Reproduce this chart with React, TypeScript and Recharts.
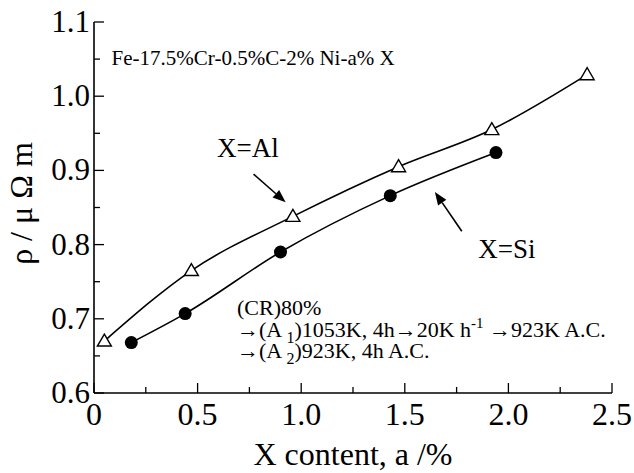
import { LineChart, Line, XAxis, YAxis, ReferenceDot, ReferenceLine } from "recharts";

const alContent = [0.05, 0.47, 0.96, 1.47, 1.92, 2.38];
const alRho = [0.67, 0.765, 0.838, 0.905, 0.955, 1.029];
const siContent = [0.18, 0.44, 0.9, 1.43, 1.94];
const siRho = [0.668, 0.707, 0.79, 0.866, 0.924];

const xTicks = [0, 0.25, 0.5, 0.75, 1.0, 1.25, 1.5, 1.75, 2.0, 2.25, 2.5];
const yTicks = [0.6, 0.65, 0.7, 0.75, 0.8, 0.85, 0.9, 0.95, 1.0, 1.05, 1.1];

const alData = alContent.map((x, i) => ({ x, y: alRho[i] }));
const siData = siContent.map((x, i) => ({ x, y: siRho[i] }));

const FONT = "Liberation Serif, Times New Roman, serif";

const isMajorX = (v: number) => Math.abs(v * 2 - Math.round(v * 2)) < 1e-6;
const isMajorY = (v: number) => Math.abs(v * 10 - Math.round(v * 10)) < 1e-6;

// eslint-disable-next-line @typescript-eslint/no-explicit-any
function BottomTick({ x, y, payload }: any) {
  const v = payload.value;
  const major = isMajorX(v);
  return (
    <g>
      <line x1={x} y1={y} x2={x} y2={y - (major ? 10 : 6)} stroke="#000" strokeWidth={1.3} />
      {major && (
        <text x={x} y={y + 32} textAnchor="middle" fontSize={32} fontFamily={FONT} fill="#000">
          {v === 0 ? "0" : v.toFixed(1)}
        </text>
      )}
    </g>
  );
}

// eslint-disable-next-line @typescript-eslint/no-explicit-any
function TopTick({ x, y, payload }: any) {
  const major = isMajorX(payload.value);
  return <line x1={x} y1={y} x2={x} y2={y + (major ? 10 : 6)} stroke="#000" strokeWidth={1.3} />;
}

// eslint-disable-next-line @typescript-eslint/no-explicit-any
function LeftTick({ x, y, payload }: any) {
  const v = payload.value;
  const major = isMajorY(v);
  return (
    <g>
      <line x1={x} y1={y} x2={x + (major ? 10 : 6)} y2={y} stroke="#000" strokeWidth={1.3} />
      {major && (
        <text x={x - 4} y={y + 10} textAnchor="end" fontSize={31} fontFamily={FONT} fill="#000">
          {v.toFixed(1)}
        </text>
      )}
    </g>
  );
}

// eslint-disable-next-line @typescript-eslint/no-explicit-any
function RightTick({ x, y, payload }: any) {
  const major = isMajorY(payload.value);
  return <line x1={x} y1={y} x2={x - (major ? 10 : 6)} y2={y} stroke="#000" strokeWidth={1.3} />;
}

// eslint-disable-next-line @typescript-eslint/no-explicit-any
function Triangle({ cx, cy }: any) {
  if (cx == null || cy == null) return null;
  return (
    <polygon
      points={`${cx},${cy - 7} ${cx - 7},${cy + 5} ${cx + 7},${cy + 5}`}
      fill="#fff"
      stroke="#000"
      strokeWidth={1.4}
    />
  );
}

// eslint-disable-next-line @typescript-eslint/no-explicit-any
function Dot({ cx, cy }: any) {
  if (cx == null || cy == null) return null;
  return <circle cx={cx} cy={cy} r={6.5} fill="#000" />;
}

// eslint-disable-next-line @typescript-eslint/no-explicit-any
function Arrow(props: any) {
  const { x1, y1, x2, y2 } = props;
  if ([x1, y1, x2, y2].some((v) => v == null)) return null;
  const ang = Math.atan2(y2 - y1, x2 - x1);
  const L = 13;
  const W = 5;
  const bx = x2 - L * Math.cos(ang);
  const by = y2 - L * Math.sin(ang);
  const px = -Math.sin(ang) * W;
  const py = Math.cos(ang) * W;
  return (
    <g>
      <line x1={x1} y1={y1} x2={bx} y2={by} stroke="#000" strokeWidth={1.6} />
      <polygon points={`${x2},${y2} ${bx + px},${by + py} ${bx - px},${by - py}`} fill="#000" />
    </g>
  );
}

function textAt(content: React.ReactNode, size: number) {
  // eslint-disable-next-line @typescript-eslint/no-explicit-any
  return (p: any) => (
    <text x={p.cx} y={p.cy} fontSize={size} fontFamily={FONT} fill="#000">
      {content}
    </text>
  );
}

export default function App() {
  return (
    <div style={{ position: "absolute", left: 0, top: 0, width: 634, height: 473, background: "#fff" }}>
      <LineChart width={634} height={473} margin={{ top: 22, right: 22, left: 0, bottom: 0 }}>
        <XAxis
          xAxisId="b"
          dataKey="x"
          type="number"
          domain={[0, 2.5]}
          ticks={xTicks}
          interval={0}
          height={80}
          tickSize={0}
          tickMargin={0}
          tickLine={false}
          axisLine={{ stroke: "#000", strokeWidth: 1.6 }}
          tick={<BottomTick />}
          label={{
            // eslint-disable-next-line @typescript-eslint/no-explicit-any
            content: (p: any) => (
              <text
                x={p.viewBox.x + p.viewBox.width / 2}
                y={p.viewBox.y + 72}
                textAnchor="middle"
                fontSize={32}
                fontFamily={FONT}
                fill="#000"
              >
                X content, a /%
              </text>
            ),
          }}
        />
        <XAxis
          xAxisId="t"
          orientation="top"
          dataKey="x"
          type="number"
          domain={[0, 2.5]}
          ticks={xTicks}
          interval={0}
          height={0}
          tickSize={0}
          tickMargin={0}
          tickLine={false}
          axisLine={{ stroke: "#000", strokeWidth: 1.6 }}
          tick={<TopTick />}
        />
        <YAxis
          yAxisId="l"
          type="number"
          domain={[0.6, 1.1]}
          ticks={yTicks}
          interval={0}
          width={94}
          tickSize={0}
          tickMargin={0}
          tickLine={false}
          axisLine={{ stroke: "#000", strokeWidth: 1.6 }}
          tick={<LeftTick />}
          label={{
            // eslint-disable-next-line @typescript-eslint/no-explicit-any
            content: (p: any) => {
              const cx = 21;
              const cy = p.viewBox.y + p.viewBox.height / 2 - 4;
              return (
                <text
                  x={cx}
                  y={cy}
                  transform={`rotate(-90 ${cx} ${cy})`}
                  textAnchor="middle"
                  dominantBaseline="central"
                  fontSize={32}
                  fontFamily={FONT}
                  fill="#000"
                >
                  ρ / μ Ω m
                </text>
              );
            },
          }}
        />
        <YAxis
          yAxisId="r"
          orientation="right"
          type="number"
          domain={[0.6, 1.1]}
          ticks={yTicks}
          interval={0}
          width={0}
          tickSize={0}
          tickMargin={0}
          tickLine={false}
          axisLine={{ stroke: "#000", strokeWidth: 1.6 }}
          tick={<RightTick />}
        />
        <Line
          xAxisId="b"
          yAxisId="l"
          data={alData}
          dataKey="y"
          type="monotone"
          stroke="#000"
          strokeWidth={1.6}
          dot={<Triangle />}
          activeDot={false}
          isAnimationActive={false}
        />
        <Line
          xAxisId="b"
          yAxisId="l"
          data={siData}
          dataKey="y"
          type="monotone"
          stroke="#000"
          strokeWidth={1.6}
          dot={<Dot />}
          activeDot={false}
          isAnimationActive={false}
        />
        <ReferenceLine
          xAxisId="b"
          yAxisId="l"
          segment={[{ x: 0.77, y: 0.895 }, { x: 0.925, y: 0.857 }]}
          shape={<Arrow />}
        />
        <ReferenceLine
          xAxisId="b"
          yAxisId="l"
          segment={[{ x: 1.775, y: 0.818 }, { x: 1.645, y: 0.871 }]}
          shape={<Arrow />}
        />
        <ReferenceDot xAxisId="b" yAxisId="l" x={0.594} y={0.918} r={0} shape={textAt("X=Al", 27)} />
        <ReferenceDot xAxisId="b" yAxisId="l" x={1.855} y={0.782} r={0} shape={textAt("X=Si", 27)} />
        <ReferenceDot xAxisId="b" yAxisId="l" x={0.085} y={1.042} r={0} shape={textAt("Fe-17.5%Cr-0.5%C-2% Ni-a% X", 21)} />
        <ReferenceDot xAxisId="b" yAxisId="l" x={0.69} y={0.705} r={0} shape={textAt("(CR)80%", 22)} />
        <ReferenceDot
          xAxisId="b"
          yAxisId="l"
          x={0.69}
          y={0.676}
          r={0}
          shape={textAt(
            <>
              →(A <tspan fontSize={16} dy={6}>1</tspan>
              <tspan dy={-6}>)1053K, 4h→20K h</tspan>
              <tspan fontSize={15} dy={-9}>-1</tspan>
              <tspan dy={9}> →923K A.C.</tspan>
            </>,
            22
          )}
        />
        <ReferenceDot
          xAxisId="b"
          yAxisId="l"
          x={0.69}
          y={0.647}
          r={0}
          shape={textAt(
            <>
              →(A <tspan fontSize={16} dy={6}>2</tspan>
              <tspan dy={-6}>)923K, 4h A.C.</tspan>
            </>,
            22
          )}
        />
      </LineChart>
    </div>
  );
}
